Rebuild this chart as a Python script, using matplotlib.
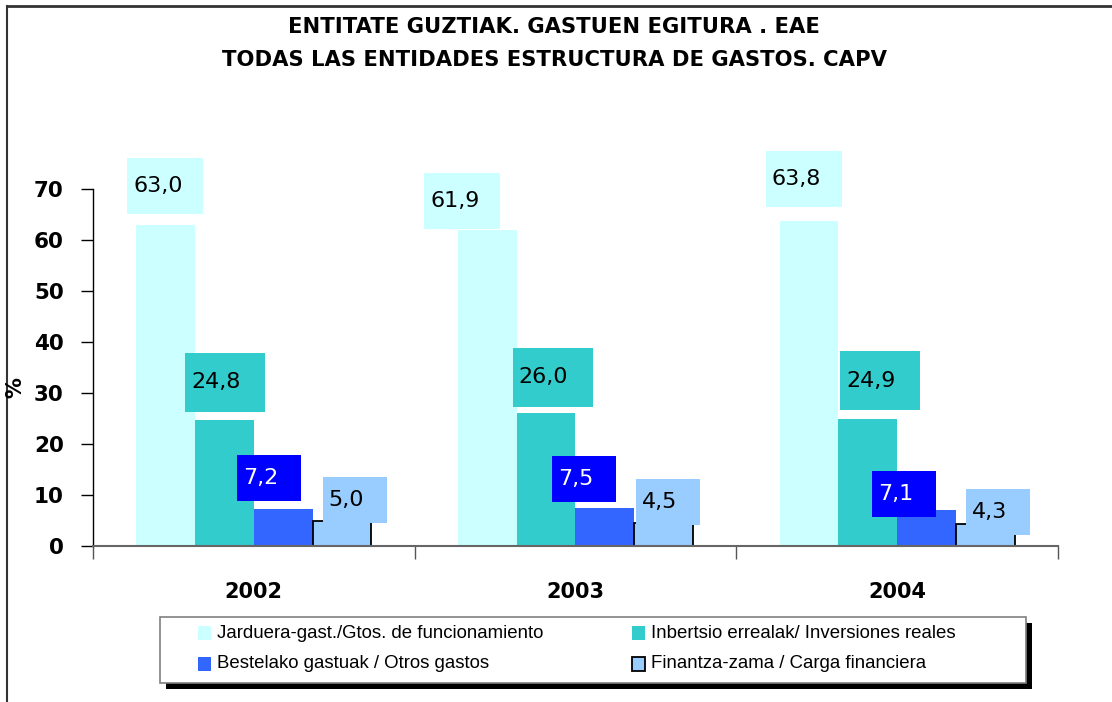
import matplotlib
matplotlib.use("Agg")
import matplotlib.pyplot as plt
from matplotlib.patches import Rectangle
from matplotlib.lines import Line2D

# ---------------- data ----------------
years = ["2002", "2003", "2004"]
series_names = [
    "Jarduera-gast./Gtos. de funcionamiento",
    "Inbertsio errealak/ Inversiones reales",
    "Bestelako gastuak / Otros gastos",
    "Finantza-zama / Carga financiera",
]
funcionamiento = [63.0, 61.9, 63.8]
inversiones = [24.8, 26.0, 24.9]
otros = [7.2, 7.5, 7.1]
financiera = [5.0, 4.5, 4.3]
y_ticks = [0, 10, 20, 30, 40, 50, 60, 70]
title_lines = ["ENTITATE GUZTIAK. GASTUEN EGITURA . EAE",
               "TODAS LAS ENTIDADES ESTRUCTURA DE GASTOS. CAPV"]

# ---------------- styles / layout ----------------
bar_colors = ["#CCFFFF", "#33CCCC", "#3366FF", "#99CCFF"]
box_colors = ["#CCFFFF", "#33CCCC", "#0000FF", "#99CCFF"]
text_colors = ["black", "black", "white", "black"]
edge_colors = ["none", "none", "none", "black"]
box_sizes_px = [(76, 56), (80, 59), (64, 46), (64, 46)]
# label box offsets in pixels: (shift from bar left, gap above bar top), [year][series]
label_offsets_px = [
    [(-9, 10.5), (-10, 7.7), (-17, 8.3), (10, -2)],
    [(-34, 1.7), (-4, 6.7), (-23, 6), (2, -2)],
    [(-14, 13.6), (2, 9), (-25, -7), (10, -11)],
]

W, H = 1112, 702
fig = plt.figure(figsize=(W / 100, H / 100), dpi=100)
ax_l, ax_r, ax_t, ax_b = 93, 1058, 189, 546
ax = fig.add_axes([ax_l / W, 1 - ax_b / H, (ax_r - ax_l) / W, (ax_b - ax_t) / H])

n_cat = len(years)
ymax = 70
cat_px = (ax_r - ax_l) / n_cat
y_px = (ax_b - ax_t) / ymax

bw = 0.1826
all_series = [funcionamiento, inversiones, otros, financiera]
for k, vals in enumerate(all_series):
    xs = [i + (k - 1.5) * bw for i in range(n_cat)]
    ax.bar(xs, vals, width=bw, color=bar_colors[k], edgecolor=edge_colors[k],
           linewidth=1.3 if k == 3 else 0, zorder=2, label=series_names[k])
    for i, v in enumerate(vals):
        bar_left = xs[i] - bw / 2
        dx, gap = label_offsets_px[i][k]
        bwpx, bhpx = box_sizes_px[k]
        x0 = bar_left + dx / cat_px
        y0 = v + gap / y_px
        ax.add_patch(Rectangle((x0, y0), bwpx / cat_px, bhpx / y_px,
                               facecolor=box_colors[k], edgecolor="none", zorder=4,
                               clip_on=False))
        ax.text(x0 + 6 / cat_px, y0 + bhpx / 2 / y_px, f"{v:.1f}".replace(".", ","),
                ha="left", va="center", fontsize=16, color=text_colors[k],
                family="DejaVu Sans", zorder=5, clip_on=False)

ax.set_xlim(-0.5, n_cat - 0.5)
ax.set_ylim(0, ymax)
ax.set_yticks(y_ticks)
ax.set_yticklabels([str(t) for t in y_ticks], fontsize=15.5, fontweight="bold")
ax.set_xticks(range(n_cat))
ax.set_xticklabels(years, fontsize=15, fontweight="bold")
ax.set_xticks([i - 0.5 for i in range(n_cat + 1)], minor=True)
ax.tick_params(axis="x", which="major", length=0, pad=26)
ax.tick_params(axis="x", which="minor", length=9, width=1, color="#555555", direction="out")
ax.tick_params(axis="y", length=9, width=1, color="black", direction="out", pad=12)
for s in ["top", "right"]:
    ax.spines[s].set_visible(False)
ax.spines["left"].set_color("black")
ax.spines["left"].set_linewidth(1)
ax.spines["bottom"].set_color("#666666")
ax.spines["bottom"].set_linewidth(1.5)
ax.spines["bottom"].set_zorder(6)

# y label
fig.text(15 / W, 1 - 388 / H, "%", rotation=90, ha="center", va="center",
         fontsize=15, fontweight="bold")

# title
fig.text(554 / W, 1 - 27 / H, title_lines[0], ha="center", va="center",
         fontsize=15.2, fontweight="bold")
fig.text(554 / W, 1 - 60 / H, title_lines[1], ha="center", va="center",
         fontsize=15.2, fontweight="bold")

# figure frame (top and left)
fig.add_artist(Line2D([7 / W, 1], [1 - 6 / H, 1 - 6 / H], color="#333333", lw=2,
                      transform=fig.transFigure))
fig.add_artist(Line2D([7 / W, 7 / W], [0, 1 - 6 / H], color="#333333", lw=1.5,
                      transform=fig.transFigure))

# legend (manual box with shadow)
def fr(x, y, w, h, **kw):
    fig.add_artist(Rectangle((x / W, 1 - (y + h) / H), w / W, h / H,
                             transform=fig.transFigure, **kw))

lg_x, lg_y, lg_w, lg_h = 160, 617, 866, 66
fr(lg_x + 6, lg_y + 6, lg_w, lg_h, facecolor="black", edgecolor="none", zorder=1)
fr(lg_x, lg_y, lg_w, lg_h, facecolor="white", edgecolor="#808080", lw=1.2, zorder=2)
col_x = [198, 632]
row_y = [633, 664]
for k, name in enumerate(series_names):
    cx = col_x[k % 2]
    cy = row_y[k // 2]
    fr(cx, cy - 7, 13, 14, facecolor=bar_colors[k],
       edgecolor=edge_colors[k] if k == 3 else "none", lw=1.3, zorder=3)
    fig.text((cx + 19) / W, 1 - cy / H, name, ha="left", va="center",
             fontsize=13.4, family="Liberation Sans", zorder=3)

fig.savefig("out.png", dpi=100)
